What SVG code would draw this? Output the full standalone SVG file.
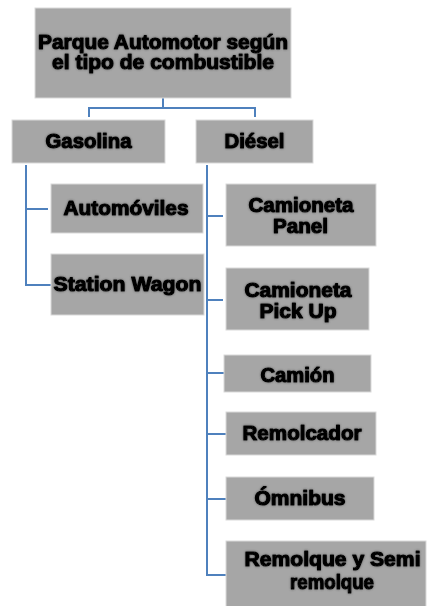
<svg xmlns="http://www.w3.org/2000/svg" width="428" height="606" viewBox="0 0 428 606">
<defs>
<filter id="glow" x="-10%" y="-30%" width="120%" height="160%">
<feGaussianBlur in="SourceAlpha" stdDeviation="1.3" result="b"/>
<feFlood flood-color="#444" flood-opacity="0.8"/>
<feComposite in2="b" operator="in" result="s"/>
<feMerge><feMergeNode in="s"/><feMergeNode in="SourceGraphic"/></feMerge>
</filter>
</defs>
<style>
.box{fill:#A6A6A6;stroke:#D9D9D9;stroke-width:1}
.t{font-family:"Liberation Sans",Arial,sans-serif;font-weight:bold;font-size:20px;fill:#000;stroke:#000;stroke-width:1.1;stroke-linejoin:round;text-anchor:middle;filter:url(#glow)}
.c{fill:none;stroke:#4F81BD;stroke-width:2}
</style>
<g id="connectors">
<path class="c" d="M163 98 V108 M89 117 V108 H255 V117"/>
<path class="c" d="M26 165 V285 H52 M26 209 H48"/>
<path class="c" d="M207 165 V575 H226 M207 216 H223 M207 300 H223 M207 373 H224 M207 434 H226 M207 499 H226"/>
</g>
<g id="root"><rect class="box" x="35" y="8" width="256" height="90"/>
<text class="t" x="163" y="49" textLength="250" lengthAdjust="spacingAndGlyphs">Parque Automotor según</text>
<text class="t" x="163" y="69" textLength="222" lengthAdjust="spacingAndGlyphs">el tipo de combustible</text></g>
<g id="gasolina"><rect class="box" x="12" y="120" width="153" height="43"/>
<text class="t" x="88.5" y="148" textLength="86" lengthAdjust="spacingAndGlyphs">Gasolina</text></g>
<g id="diesel"><rect class="box" x="196" y="120" width="117" height="43"/>
<text class="t" x="254.5" y="148" textLength="60" lengthAdjust="spacingAndGlyphs">Diésel</text></g>
<g id="automoviles"><rect class="box" x="51" y="184" width="152" height="49"/>
<text class="t" x="126" y="215" textLength="125" lengthAdjust="spacingAndGlyphs">Automóviles</text></g>
<g id="station"><rect class="box" x="51" y="254" width="153" height="61"/>
<text class="t" x="127.5" y="291" textLength="148" lengthAdjust="spacingAndGlyphs">Station Wagon</text></g>
<g id="panel"><rect class="box" x="226" y="184" width="150" height="62"/>
<text class="t" x="301" y="212" textLength="105" lengthAdjust="spacingAndGlyphs">Camioneta</text>
<text class="t" x="300.5" y="233" textLength="55" lengthAdjust="spacingAndGlyphs">Panel</text></g>
<g id="pickup"><rect class="box" x="226" y="268" width="143" height="62"/>
<text class="t" x="298" y="297" textLength="107" lengthAdjust="spacingAndGlyphs">Camioneta</text>
<text class="t" x="298" y="318" textLength="77" lengthAdjust="spacingAndGlyphs">Pick Up</text></g>
<g id="camion"><rect class="box" x="224" y="355" width="147" height="37"/>
<text class="t" x="297.5" y="382" textLength="74" lengthAdjust="spacingAndGlyphs">Camión</text></g>
<g id="remolcador"><rect class="box" x="226" y="412" width="150" height="43"/>
<text class="t" x="302" y="440" textLength="119" lengthAdjust="spacingAndGlyphs">Remolcador</text></g>
<g id="omnibus"><rect class="box" x="226" y="477" width="148" height="43"/>
<text class="t" x="300" y="505" textLength="91" lengthAdjust="spacingAndGlyphs">Ómnibus</text></g>
<g id="remolque"><rect class="box" x="226" y="541" width="200" height="66"/>
<text class="t" x="332.5" y="566" textLength="176" lengthAdjust="spacingAndGlyphs">Remolque y Semi</text>
<text class="t" x="332" y="589" textLength="84" lengthAdjust="spacingAndGlyphs">remolque</text></g>
</svg>
